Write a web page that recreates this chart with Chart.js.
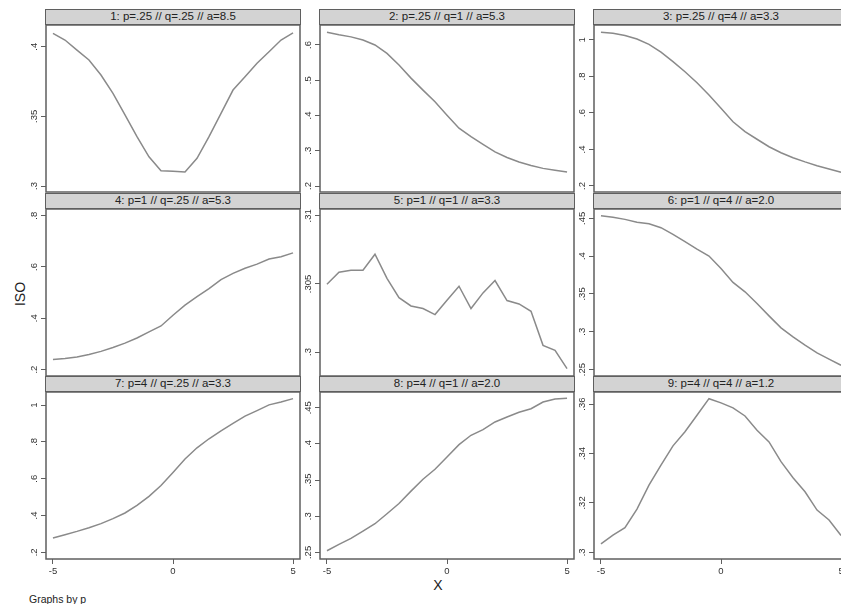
<!DOCTYPE html>
<html>
<head>
<meta charset="utf-8">
<script src="https://cdn.jsdelivr.net/npm/chart.js@4.4.0/dist/chart.umd.min.js"></script>
<style>
html, body { margin: 0; padding: 0; background: #fff; overflow: hidden; width: 841px; height: 604px; }
body { position: relative; font-family: "Liberation Sans", Arial, sans-serif; color: #222; }
.hdr { position: absolute; box-sizing: border-box; height: 16px; background: #d3d3d3; border: 1.5px solid #5f5f5f;
       font-size: 11.5px; line-height: 13px; text-align: center; white-space: nowrap; }
canvas { position: absolute; }
.lbl { position: absolute; white-space: nowrap; }
</style>
</head>
<body>
<div class="lbl" style="left:20px;top:294px;font-size:14px;transform:translate(-50%,-50%) rotate(-90deg);">ISO</div>
<div class="lbl" style="left:438px;top:585px;font-size:14px;transform:translate(-50%,-50%);">X</div>
<div class="lbl" style="left:29px;top:599px;font-size:10.5px;transform:translateY(-50%);">Graphs by p</div>
<script>
// x grid shared by every panel
let xValues = [-5, -4.5, -4, -3.5, -3, -2.5, -2, -1.5, -1, -0.5, 0, 0.5, 1, 1.5, 2, 2.5, 3, 3.5, 4, 4.5, 5];
let xTicks = [-5, 0, 5];

// panel titles
let titles = [
    "1: p=.25 // q=.25 // a=8.5", "2: p=.25 // q=1 // a=5.3", "3: p=.25 // q=4 // a=3.3",
    "4: p=1 // q=.25 // a=5.3", "5: p=1 // q=1 // a=3.3", "6: p=1 // q=4 // a=2.0",
    "7: p=4 // q=.25 // a=3.3", "8: p=4 // q=1 // a=2.0", "9: p=4 // q=4 // a=1.2"
];

// ISO values
let iso1 = [.4096, .4048, .3976, .3905, .3797, .3665, .3510, .3354, .3210, .3110, .3106, .3100, .3199, .3354, .3522, .3689, .3785, .3881, .3964, .4048, .4100];
let iso2 = [.636, .629, .623, .614, .600, .576, .543, .506, .472, .439, .401, .364, .340, .318, .297, .281, .268, .258, .250, .245, .240];
let iso3 = [1.042, 1.037, 1.024, 1.005, .976, .933, .881, .826, .766, .699, .626, .552, .498, .456, .415, .382, .355, .332, .311, .293, .275];
let iso4 = [.239, .243, .249, .259, .271, .286, .303, .323, .347, .370, .412, .451, .484, .516, .551, .575, .595, .611, .631, .640, .655];
let iso5 = [.30498, .30586, .3060, .3060, .30718, .30541, .30399, .30338, .30319, .30275, .3038, .30483, .30319, .30434, .30525, .30378, .30353, .30299, .30049, .30012, .29878];
let iso6 = [.4534, .4513, .4486, .4447, .4429, .4376, .4288, .4191, .4093, .4001, .3837, .3652, .3528, .3374, .3210, .3051, .2932, .2822, .2720, .2637, .2557];
let iso7 = [.278, .296, .314, .334, .356, .383, .414, .455, .504, .563, .634, .707, .768, .817, .860, .900, .940, .970, 1.001, 1.017, 1.035];
let iso8 = [.2523, .261, .2693, .2795, .2896, .3034, .3176, .3347, .3512, .365, .382, .399, .4119, .4197, .4303, .4372, .4436, .4486, .4579, .462, .463];
let iso9 = [.3034, .3070, .3100, .3175, .3272, .3353, .3431, .3488, .3555, .3622, .3605, .3585, .3552, .3494, .3447, .3367, .3302, .3245, .3171, .3131, .3068];

// y tick labels per panel
let yTicks1 = [.3, .35, .4];
let yTicks2 = [.2, .3, .4, .5, .6];
let yTicks3 = [.2, .4, .6, .8, 1];
let yTicks4 = [.2, .4, .6, .8];
let yTicks5 = [.3, .305, .31];
let yTicks6 = [.25, .3, .35, .4, .45];
let yTicks7 = [.2, .4, .6, .8, 1];
let yTicks8 = [.25, .3, .35, .4, .45];
let yTicks9 = [.3, .32, .34, .36];

let series = [iso1, iso2, iso3, iso4, iso5, iso6, iso7, iso8, iso9];
let yTicks = [yTicks1, yTicks2, yTicks3, yTicks4, yTicks5, yTicks6, yTicks7, yTicks8, yTicks9];
// y axis extent of each plot box (data range plus Stata's margin)
let yRange = [[.2957, .4156], [.183, .6567], [.167, 1.082], [.175, .826], [.29824, .3105],
              [.2415, .4623], [.164, 1.071], [.2409, .4717], [.2973, .3649]];

const FONT = '"Liberation Sans", Arial, sans-serif';
const TICK_SIZE = 9.5;
const AXIS_W = 40, PLOT_W = 254, PLOT_H = 167, PAD = 2;

let measure = document.createElement('canvas').getContext('2d');
measure.font = TICK_SIZE + 'px ' + FONT;

function fmt(v) {
    return String(Math.round(v * 10000) / 10000).replace(/^0\./, '.');
}

// box around the plot region
const boxPlugin = {
    id: 'box',
    afterDraw(chart) {
        let a = chart.chartArea, ctx = chart.ctx;
        ctx.save();
        ctx.strokeStyle = '#5f5f5f';
        ctx.lineWidth = 1.5;
        ctx.strokeRect(a.left, a.top, a.right - a.left, a.bottom - a.top);
        ctx.restore();
    }
};

for (let i = 0; i < 9; i++) {
    let row = Math.floor(i / 3), col = i % 3;
    let plotLeft = 46 + 274 * col;
    let headTop = 10 + 183.3 * row;
    let plotTop = headTop + 15.3;
    let bottomRow = row === 2;

    let hdr = document.createElement('div');
    hdr.className = 'hdr';
    hdr.textContent = titles[i];
    hdr.style.left = (plotLeft - 0.75) + 'px';
    hdr.style.top = (headTop - 0.75) + 'px';
    hdr.style.width = (PLOT_W + 1.5) + 'px';
    document.body.appendChild(hdr);

    let cv = document.createElement('canvas');
    let w = AXIS_W + PLOT_W + PAD;
    let h = PAD + PLOT_H + (bottomRow ? 22 : PAD);
    cv.width = w; cv.height = h;
    cv.style.width = w + 'px'; cv.style.height = h + 'px';
    cv.style.left = (plotLeft - AXIS_W) + 'px';
    cv.style.top = (plotTop - PAD) + 'px';
    document.body.appendChild(cv);

    let widest = Math.max(...yTicks[i].map(v => measure.measureText(fmt(v)).width));
    let ticksY = yTicks[i];

    new Chart(cv, {
        type: 'line',
        data: {
            datasets: [{
                data: xValues.map((x, k) => ({x: x, y: series[i][k]})),
                borderColor: '#8a8a8a',
                borderWidth: 1.5,
                pointRadius: 0,
                tension: 0
            }]
        },
        options: {
            responsive: false,
            animation: false,
            layout: {padding: {left: 0, top: PAD, right: PAD, bottom: bottomRow ? 0 : PAD}},
            plugins: {legend: {display: false}, tooltip: {enabled: false}},
            scales: {
                x: {
                    type: 'linear',
                    display: bottomRow,
                    min: -5.29,
                    max: 5.29,
                    afterBuildTicks: s => { s.ticks = xTicks.map(v => ({value: v})); },
                    afterFit: s => { s.height = bottomRow ? 22 : 0; s.paddingLeft = 0; s.paddingRight = 0; },
                    border: {display: false},
                    grid: {drawOnChartArea: false, drawTicks: true, tickLength: 5, color: '#5f5f5f'},
                    ticks: {color: '#333', padding: 2, maxRotation: 0, font: {family: FONT, size: TICK_SIZE}, callback: v => fmt(v)}
                },
                y: {
                    type: 'linear',
                    min: yRange[i][0],
                    max: yRange[i][1],
                    afterBuildTicks: s => { s.ticks = ticksY.map(v => ({value: v})); },
                    afterFit: s => { s.width = AXIS_W; s.paddingTop = 0; s.paddingBottom = 0; },
                    border: {display: false},
                    grid: {drawOnChartArea: false, drawTicks: true, tickLength: 5, color: '#5f5f5f'},
                    ticks: {
                        color: '#333',
                        minRotation: 90,
                        maxRotation: 90,
                        crossAlign: 'center',
                        padding: 12 - 5 - widest / 2,
                        font: {family: FONT, size: TICK_SIZE},
                        callback: v => fmt(v)
                    }
                }
            }
        },
        plugins: [boxPlugin]
    });
}
</script>
</body>
</html>
